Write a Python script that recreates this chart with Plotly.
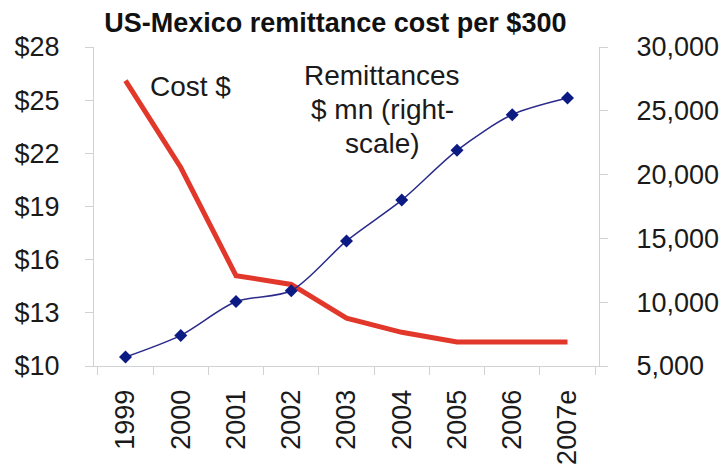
import plotly.graph_objects as go

years = ["1999", "2000", "2001", "2002", "2003", "2004", "2005", "2006", "2007e"]
cost_usd = [26.1, 21.2, 15.1, 14.6, 12.7, 11.9, 11.35, 11.35, 11.35]
remittances_mn = [5700, 7400, 10050, 10900, 14800, 18000, 21900, 24700, 26000]

left_ticks = [10, 13, 16, 19, 22, 25, 28]
left_labels = ["$" + str(v) for v in left_ticks]
right_ticks = [5000, 10000, 15000, 20000, 25000, 30000]

FONT = "Liberation Sans, Arial, sans-serif"
AXIS_GRAY = "#cfd3d6"

fig = go.Figure()
fig.add_trace(go.Scatter(
    x=years, y=cost_usd, mode="lines", name="Cost $",
    line=dict(color="#e2372b", width=5), yaxis="y"))
fig.add_trace(go.Scatter(
    x=years, y=remittances_mn, mode="lines+markers", name="Remittances",
    line=dict(color="#2b2b8c", width=1.5, shape="spline", smoothing=0.8),
    marker=dict(symbol="diamond", size=10, color="#0c1a84"),
    yaxis="y2"))

fig.update_layout(
    width=725, height=471,
    margin=dict(l=94, r=126, t=47, b=105, autoexpand=False),
    paper_bgcolor="white", plot_bgcolor="white",
    showlegend=False,
    font=dict(family=FONT, size=27, color="#1a1a1a"),
    title=dict(text="<b>US-Mexico remittance cost per $300</b>",
               x=0.4779, xanchor="center", xref="paper",
               y=0.953, yanchor="middle", automargin=False,
               font=dict(family=FONT, size=27, color="#111111")),
    xaxis=dict(type="category", categoryorder="array", categoryarray=years,
               showgrid=False, showline=True, linecolor=AXIS_GRAY, linewidth=1,
               ticks="outside", ticklen=8, tickcolor=AXIS_GRAY,
               tickson="boundaries", tickangle=-90, automargin=False,
               ticklabelstandoff=12,
               tickfont=dict(size=27), zeroline=False),
    yaxis=dict(range=[10, 28], tickvals=left_ticks, ticktext=left_labels,
               showgrid=False, showline=True, linecolor=AXIS_GRAY, linewidth=1,
               ticks="outside", ticklen=8, tickcolor=AXIS_GRAY, automargin=False,
               ticklabelstandoff=20, zeroline=False),
    yaxis2=dict(range=[5000, 30000], tickvals=right_ticks, tickformat=",",
                overlaying="y", side="right", automargin=False,
                showgrid=False, showline=True, linecolor=AXIS_GRAY, linewidth=1,
                ticks="outside", ticklen=8, tickcolor=AXIS_GRAY,
                ticklabelstandoff=23, zeroline=False),
)

fig.add_annotation(text="Cost $", xref="paper", yref="paper",
                   x=(190 - 94) / 505, y=(366 - 86) / 319,
                   showarrow=False, xanchor="center", yanchor="middle",
                   font=dict(size=28))
for line_text, yc in [("Remittances", 75), ("$ mn (right-", 109), ("scale)", 143)]:
    fig.add_annotation(text=line_text, xref="paper", yref="paper",
                       x=(382 - 94) / 505, y=(366 - yc) / 319,
                       showarrow=False, xanchor="center", yanchor="middle",
                       font=dict(size=28))

fig.write_html("out.html",
               config={"displayModeBar": False, "staticPlot": True},
               post_script="document.body.style.margin='0';document.body.style.overflow='hidden';")
